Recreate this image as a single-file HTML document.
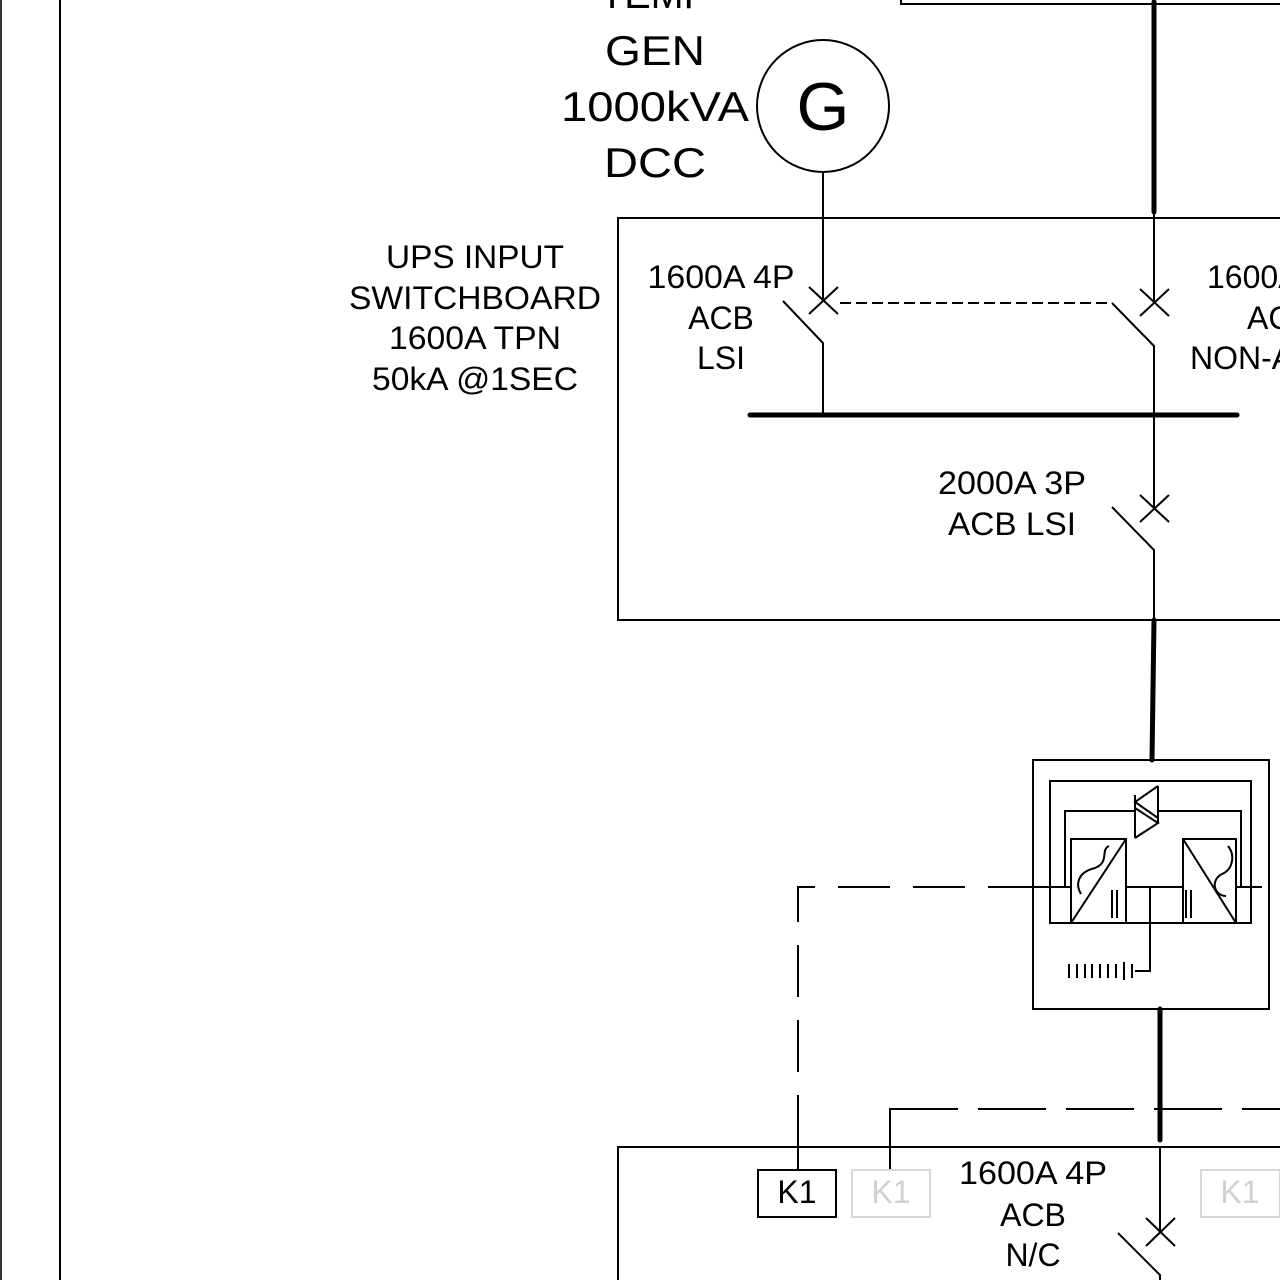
<!DOCTYPE html>
<html><head><meta charset="utf-8"><style>
html,body{margin:0;padding:0;background:#fff}
svg{display:block}
text{font-family:"Liberation Sans",Arial,sans-serif;fill:#000}
</style></head><body>
<svg width="1280" height="1280" viewBox="0 0 1280 1280" xmlns="http://www.w3.org/2000/svg">
<g stroke="#000" fill="none" stroke-width="2">
<line x1="1" y1="0" x2="1" y2="1280" stroke="#333"/>
<line x1="60" y1="0" x2="60" y2="1280"/>
<polyline points="901,0 901,4 1280,4"/>
<line x1="1154" y1="2" x2="1154" y2="212" stroke-width="5" stroke-linecap="round"/>
<circle cx="823" cy="106" r="66"/>
<polyline points="1280,218 618,218 618,620 1280,620"/>
<line x1="823" y1="172" x2="823" y2="300"/>
<line x1="809" y1="287" x2="838" y2="314"/>
<line x1="838" y1="287" x2="809" y2="314"/>
<polyline points="783,301 823,343 823,415"/>
<line x1="1154" y1="212" x2="1154" y2="302"/>
<line x1="1140" y1="289" x2="1169" y2="316"/>
<line x1="1169" y1="289" x2="1140" y2="316"/>
<polyline points="840,303 1112,303" stroke-dasharray="11,5"/>
<polyline points="1112,303 1154,346 1154,508"/>
<line x1="750" y1="415" x2="1237" y2="415" stroke-width="5" stroke-linecap="round"/>
<line x1="1140" y1="495" x2="1169" y2="522"/>
<line x1="1169" y1="495" x2="1140" y2="522"/>
<polyline points="1112,507 1154,550 1154,620"/>
<line x1="1154" y1="620" x2="1152" y2="760" stroke-width="5" stroke-linecap="round"/>
<rect x="1033" y="760" width="236" height="249"/>
<rect x="1050" y="781" width="201" height="142"/>
<polyline points="1071,887 1065,887 1065,811 1135,811"/>
<polyline points="1158,811 1241,811 1241,887 1236,887"/>
<line x1="1135" y1="795" x2="1135" y2="838"/>
<line x1="1158" y1="786" x2="1158" y2="823"/>
<polyline points="1158,786 1135,802 1158,818"/>
<polyline points="1135,808 1158,823 1135,838"/>
<rect x="1071" y="839" width="55" height="84"/>
<line x1="1071" y1="923" x2="1126" y2="839"/>
<path d="M1109,846 C1100,850 1110,862 1095,868 C1078,872 1075,884 1081,894"/>
<line x1="1112" y1="890" x2="1112" y2="918"/>
<line x1="1117" y1="890" x2="1117" y2="918"/>
<rect x="1183" y="839" width="53" height="84"/>
<line x1="1183" y1="839" x2="1236" y2="923"/>
<path d="M1228,846 C1236,856 1232,870 1222,874 C1210,880 1214,896 1226,896"/>
<line x1="1186" y1="890" x2="1186" y2="918"/>
<line x1="1191" y1="890" x2="1191" y2="918"/>
<line x1="1000" y1="887" x2="1071" y2="887"/>
<line x1="1126" y1="887" x2="1183" y2="887"/>
<line x1="1236" y1="887" x2="1262" y2="887"/>
<polyline points="1150,887 1150,971 1135,971"/>
<line x1="1069" y1="964" x2="1069" y2="978"/>
<line x1="1077" y1="964" x2="1077" y2="978"/>
<line x1="1085" y1="964" x2="1085" y2="978"/>
<line x1="1092" y1="964" x2="1092" y2="978"/>
<line x1="1100" y1="964" x2="1100" y2="978"/>
<line x1="1108" y1="964" x2="1108" y2="978"/>
<line x1="1116" y1="964" x2="1116" y2="978"/>
<line x1="1124" y1="962" x2="1124" y2="980"/>
<line x1="1132" y1="964" x2="1132" y2="978"/>
<polyline points="1040,887 798,887 798,1140" stroke-dasharray="52,23"/>
<line x1="798" y1="1130" x2="798" y2="1170"/>
<polyline points="890,1170 890,1109 1280,1109"/>
<line x1="890" y1="1109" x2="1280" y2="1109" stroke="#fff" stroke-width="4" stroke-dasharray="0,68,20,0"/>
<line x1="1160" y1="1009" x2="1160" y2="1140" stroke-width="5" stroke-linecap="round"/>
<polyline points="618,1280 618,1147 1280,1147"/>
<rect x="758" y="1170" width="78" height="47"/>
<rect x="852" y="1170" width="78" height="47" stroke="#d8d8d8"/>
<rect x="1201" y="1170" width="79" height="47" stroke="#d8d8d8"/>
<line x1="1160" y1="1147" x2="1160" y2="1232"/>
<line x1="1146" y1="1218" x2="1175" y2="1246"/>
<line x1="1175" y1="1218" x2="1146" y2="1246"/>
<polyline points="1118,1233 1160,1275 1160,1280"/>
</g>
<g text-anchor="middle" font-size="42">
<text x="655" y="8" textLength="110" lengthAdjust="spacingAndGlyphs">TEMP</text>
<text x="655" y="65" textLength="100" lengthAdjust="spacingAndGlyphs">GEN</text>
<text x="655" y="121" textLength="188" lengthAdjust="spacingAndGlyphs">1000kVA</text>
<text x="655" y="177" textLength="102" lengthAdjust="spacingAndGlyphs">DCC</text>
<text x="823" y="130" font-size="68">G</text>
</g>
<g text-anchor="middle" font-size="32">
<text x="475" y="268" textLength="178" lengthAdjust="spacingAndGlyphs">UPS INPUT</text>
<text x="475" y="309" textLength="252" lengthAdjust="spacingAndGlyphs">SWITCHBOARD</text>
<text x="475" y="349" textLength="172" lengthAdjust="spacingAndGlyphs">1600A TPN</text>
<text x="475" y="390" textLength="206" lengthAdjust="spacingAndGlyphs">50kA @1SEC</text>
<text x="721" y="288" textLength="147" lengthAdjust="spacingAndGlyphs">1600A 4P</text>
<text x="721" y="329">ACB</text>
<text x="721" y="369">LSI</text>
<text x="1012" y="494" textLength="148" lengthAdjust="spacingAndGlyphs">2000A 3P</text>
<text x="1012" y="535" textLength="128" lengthAdjust="spacingAndGlyphs">ACB LSI</text>
<text x="1033" y="1184" textLength="148" lengthAdjust="spacingAndGlyphs">1600A 4P</text>
<text x="1033" y="1226">ACB</text>
<text x="1033" y="1266">N/C</text>
<text x="797" y="1203">K1</text>
<text x="891" y="1203" style="fill:#d0d0d0">K1</text>
<text x="1240" y="1203" style="fill:#d0d0d0">K1</text>
</g>
<g font-size="32">
<text x="1207" y="288">1600A 4P</text>
<text x="1247" y="329">ACB</text>
<text x="1190" y="369">NON-AUTO</text>
</g>
</svg>
</body></html>
